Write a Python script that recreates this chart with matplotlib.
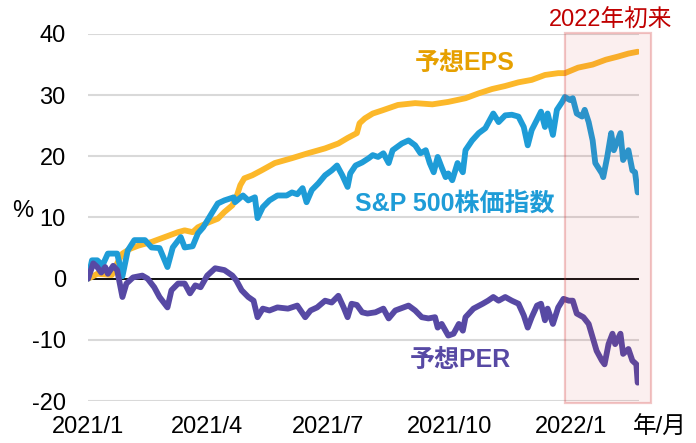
import matplotlib
matplotlib.use("Agg")
import matplotlib.pyplot as plt
import matplotlib.dates as mdates
from matplotlib.patches import Rectangle
import pandas as pd

plt.rcParams['font.family'] = ['Liberation Sans', 'Noto Sans CJK JP', 'DejaVu Sans']
plt.rcParams['axes.unicode_minus'] = False

# S&P 500 (% change since start of 2021)
spDates = ["2021-01-01", "2021-01-04", "2021-01-08", "2021-01-12", "2021-01-16", "2021-01-23",
           "2021-01-27", "2021-01-31", "2021-02-05", "2021-02-13", "2021-02-18", "2021-02-24",
           "2021-03-02", "2021-03-06", "2021-03-12", "2021-03-15", "2021-03-21", "2021-03-25",
           "2021-03-29", "2021-04-05", "2021-04-09", "2021-04-14", "2021-04-21", "2021-04-22",
           "2021-04-28", "2021-05-02", "2021-05-07", "2021-05-09", "2021-05-13", "2021-05-18",
           "2021-05-24", "2021-05-31", "2021-06-04", "2021-06-08", "2021-06-12", "2021-06-15",
           "2021-06-19", "2021-06-24", "2021-06-29", "2021-07-04", "2021-07-08", "2021-07-12",
           "2021-07-16", "2021-07-18", "2021-07-22", "2021-07-27", "2021-08-01", "2021-08-04",
           "2021-08-08", "2021-08-12", "2021-08-16", "2021-08-19", "2021-08-26", "2021-08-31",
           "2021-09-05", "2021-09-09", "2021-09-13", "2021-09-16", "2021-09-19", "2021-09-22",
           "2021-09-25", "2021-09-28", "2021-09-30", "2021-10-03", "2021-10-07", "2021-10-11",
           "2021-10-13", "2021-10-18", "2021-10-23", "2021-10-28", "2021-11-01", "2021-11-03",
           "2021-11-07", "2021-11-12", "2021-11-17", "2021-11-22", "2021-11-26", "2021-11-29",
           "2021-12-02", "2021-12-06", "2021-12-09", "2021-12-12", "2021-12-14", "2021-12-18",
           "2021-12-21", "2021-12-25", "2021-12-27", "2021-12-31", "2022-01-02", "2022-01-05",
           "2022-01-09", "2022-01-11", "2022-01-14", "2022-01-17", "2022-01-19", "2022-01-24",
           "2022-01-25", "2022-01-28", "2022-01-31", "2022-02-02", "2022-02-07", "2022-02-09",
           "2022-02-13", "2022-02-16", "2022-02-18", "2022-02-20"]
spValues = [0, 3.0, 3.0, 2.2, 4.1, 4.1,
            0.4, 4.6, 6.3, 6.3, 5.1, 5.0,
            1.9, 5.1, 6.8, 5.1, 5.3, 7.4,
            8.4, 10.9, 12.3, 12.8, 13.3, 12.5,
            13.6, 12.8, 13.3, 9.9, 11.7, 12.8,
            13.6, 13.6, 14.1, 13.8, 14.8, 12.5,
            14.5, 15.6, 16.9, 17.7, 18.5, 16.9,
            15.0, 17.2, 18.5, 19.0, 19.7, 20.2,
            19.9, 20.5, 18.9, 21.0, 22.1, 22.6,
            21.8, 20.5, 21.0, 18.9, 17.4, 19.9,
            18.2, 16.6, 17.2, 16.1, 18.9, 17.4,
            21.0, 22.6, 23.8, 24.6, 26.2, 27.0,
            25.6, 26.7, 26.8, 26.5, 24.8, 21.8,
            24.3, 26.0, 27.3, 24.8, 27.0, 23.5,
            27.6, 28.9, 29.7, 29.2, 29.5, 27.0,
            26.5, 27.6, 25.6, 22.6, 18.9, 17.2,
            16.6, 19.9, 23.8, 21.0, 23.8, 19.4,
            21.0, 17.7, 17.4, 14.1]

# forward EPS
epsDates = ["2021-01-01", "2021-01-04", "2021-01-08", "2021-01-19", "2021-01-23", "2021-01-27",
            "2021-02-02", "2021-02-08", "2021-02-18", "2021-02-28", "2021-03-10", "2021-03-15",
            "2021-03-21", "2021-03-25", "2021-04-02", "2021-04-09", "2021-04-14", "2021-04-20",
            "2021-04-23", "2021-04-26", "2021-04-29", "2021-05-05", "2021-05-12", "2021-05-22",
            "2021-06-04", "2021-06-16", "2021-06-29", "2021-07-09", "2021-07-16", "2021-07-23",
            "2021-07-25", "2021-07-29", "2021-08-04", "2021-08-11", "2021-08-23", "2021-09-05",
            "2021-09-18", "2021-09-30", "2021-10-13", "2021-10-23", "2021-11-02", "2021-11-12",
            "2021-11-22", "2021-12-02", "2021-12-12", "2021-12-22", "2021-12-27", "2022-01-06",
            "2022-01-17", "2022-01-27", "2022-02-05", "2022-02-13", "2022-02-20"]
epsValues = [0, 0.3, 0.8, 0.6, 2.5, 4.1,
             4.9, 5.4, 6.0, 6.8, 7.6, 7.9,
             7.6, 8.4, 9.2, 9.8, 10.9, 12.0,
             13.3, 15.3, 16.4, 16.9, 17.7, 18.9,
             19.7, 20.5, 21.3, 22.1, 23.0, 23.8,
             25.4, 26.2, 27.0, 27.5, 28.4, 28.7,
             28.5, 28.9, 29.5, 30.3, 31.0, 31.5,
             32.1, 32.5, 33.3, 33.6, 33.6, 34.5,
             35.0, 35.8, 36.3, 36.8, 37.1]

# forward PER
perDates = ["2021-01-01", "2021-01-05", "2021-01-08", "2021-01-11", "2021-01-14", "2021-01-16",
            "2021-01-20", "2021-01-23", "2021-01-27", "2021-01-30", "2021-02-04", "2021-02-11",
            "2021-02-15", "2021-02-20", "2021-02-24", "2021-03-02", "2021-03-05", "2021-03-10",
            "2021-03-15", "2021-03-19", "2021-03-23", "2021-03-27", "2021-04-01", "2021-04-07",
            "2021-04-14", "2021-04-20", "2021-04-23", "2021-04-27", "2021-05-02", "2021-05-06",
            "2021-05-09", "2021-05-13", "2021-05-18", "2021-05-24", "2021-06-01", "2021-06-08",
            "2021-06-14", "2021-06-18", "2021-06-23", "2021-06-29", "2021-07-04", "2021-07-09",
            "2021-07-13", "2021-07-16", "2021-07-19", "2021-07-23", "2021-07-27", "2021-07-31",
            "2021-08-06", "2021-08-12", "2021-08-16", "2021-08-21", "2021-08-31", "2021-09-05",
            "2021-09-10", "2021-09-15", "2021-09-20", "2021-09-22", "2021-09-25", "2021-09-30",
            "2021-10-04", "2021-10-08", "2021-10-11", "2021-10-13", "2021-10-19", "2021-10-26",
            "2021-10-30", "2021-11-03", "2021-11-07", "2021-11-12", "2021-11-17", "2021-11-22",
            "2021-11-26", "2021-11-29", "2021-12-02", "2021-12-06", "2021-12-09", "2021-12-12",
            "2021-12-14", "2021-12-18", "2021-12-22", "2021-12-26", "2021-12-30", "2022-01-02",
            "2022-01-05", "2022-01-10", "2022-01-14", "2022-01-17", "2022-01-20", "2022-01-24",
            "2022-01-26", "2022-01-29", "2022-02-01", "2022-02-03", "2022-02-07", "2022-02-09",
            "2022-02-13", "2022-02-16", "2022-02-19", "2022-02-20"]
perValues = [0, 2.5, 1.9, 1.0, 1.9, 0.8,
             2.1, 1.4, -3.0, -0.8, 0.2, 0.5,
             0.0, -1.4, -3.0, -4.7, -1.9, -0.8,
             -0.8, -2.4, -1.1, -1.4, 0.5, 1.7,
             1.4, 0.5, -0.3, -1.9, -3.0, -3.6,
             -6.3, -4.9, -5.2, -4.7, -4.9, -4.4,
             -6.3, -5.2, -4.7, -3.6, -3.9, -2.8,
             -4.7, -6.3, -4.1, -4.3, -5.5, -5.7,
             -5.5, -4.9, -6.5, -5.2, -4.4, -5.2,
             -6.3, -6.5, -6.3, -8.0, -7.4, -9.3,
             -9.0, -7.4, -8.5, -6.3, -4.9, -4.1,
             -3.6, -3.0, -3.6, -3.0, -3.6, -4.1,
             -6.0, -8.0, -6.3, -4.4, -4.1, -6.8,
             -4.9, -7.4, -4.7, -3.3, -3.6, -3.6,
             -5.7, -6.3, -7.4, -9.6, -11.8, -13.4,
             -14.0, -10.7, -9.0, -10.7, -9.0, -12.3,
             -11.5, -13.4, -14.0, -17.0]

tickDates = ["2021-01-01", "2021-04-01", "2021-07-01", "2021-10-01", "2022-01-01"]
tickLabels = ["2021/1", "2021/4", "2021/7", "2021/10", "2022/1"]
yTicks = [-20, -10, 0, 10, 20, 30, 40]
shadeStart = "2021-12-27"
shadeEnd = "2022-03-02"

W, H = 696, 443
fig = plt.figure(figsize=(W / 100, H / 100), dpi=100)
ax = fig.add_axes([88 / W, 1 - 401 / H, (639 - 88) / W, (401 - 34) / H])

lw = 4.2
ax.plot(pd.to_datetime(epsDates), epsValues, color='#fcb82a', lw=lw, solid_capstyle='round', solid_joinstyle='round', zorder=3)
ax.plot(pd.to_datetime(spDates), spValues, color='#1e9cd7', lw=lw, solid_capstyle='round', solid_joinstyle='round', zorder=3)
ax.plot(pd.to_datetime(perDates), perValues, color='#5749a4', lw=lw, solid_capstyle='round', solid_joinstyle='round', zorder=3)

ax.set_xlim(pd.Timestamp("2021-01-01"), pd.Timestamp("2022-02-21"))
ax.set_ylim(-20, 40)
ax.set_yticks(yTicks)
ax.set_xticks(pd.to_datetime(tickDates))
ax.set_xticklabels(tickLabels)
ax.grid(axis='y', color='#d9d9d9', lw=1.5, zorder=1)
ax.axhline(0, color='black', lw=1.3, zorder=2)
for s in ax.spines.values():
    s.set_visible(False)
ax.tick_params(length=0, labelsize=17, colors='black')
ax.tick_params(axis='y', pad=16)
ax.tick_params(axis='x', pad=11)

# 2022 shaded box
x0 = mdates.date2num(pd.Timestamp(shadeStart))
x1 = mdates.date2num(pd.Timestamp(shadeEnd))
ax.add_patch(Rectangle((x0, -20.3), x1 - x0, 60.5, facecolor=(0.82, 0.2, 0.2, 0.08),
                       edgecolor=(0.82, 0.2, 0.2, 0.28), lw=1.6, clip_on=False, zorder=4))

fig.text(611 / W, 1 - 21 / H, "2022年初来", color='#c00000', fontsize=17, ha='center', va='center')
fig.text(465 / W, 1 - 63 / H, "予想EPS", color='#e6a000', fontsize=18, fontweight='bold', ha='center', va='center')
fig.text(455 / W, 1 - 205 / H, "S&P 500株価指数", color='#1e9cd7', fontsize=18, fontweight='bold', ha='center', va='center')
fig.text(460 / W, 1 - 360 / H, "予想PER", color='#5749a4', fontsize=18, fontweight='bold', ha='center', va='center')
fig.text(23 / W, 1 - 211 / H, "%", fontsize=17, ha='center', va='center')
fig.text(660 / W, 1 - 428 / H, "年/月", fontsize=17, ha='center', va='center')

fig.savefig("out.png", dpi=100)
